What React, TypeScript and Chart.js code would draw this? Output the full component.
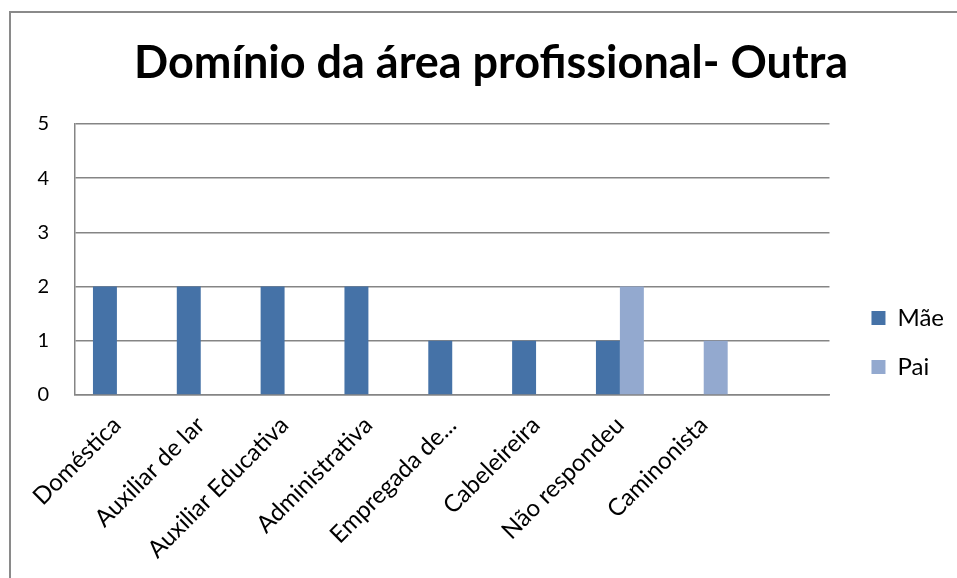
import React, { useEffect, useRef } from "react";
import { Chart, registerables } from "chart.js";

Chart.register(...registerables);

const TITLE = "Domínio da área profissional- Outra";
const CATEGORIES = [
  "Doméstica",
  "Auxiliar de lar",
  "Auxiliar Educativa",
  "Administrativa",
  "Empregada de...",
  "Cabeleireira",
  "Não respondeu",
  "Caminonista",
  "",
];
const SERIES_NAMES = ["Mãe", "Pai"];
const MAE_VALUES = [2, 2, 2, 2, 1, 1, 1, null, null];
const PAI_VALUES = [null, null, null, null, null, null, 2, 1, null];
const Y_MIN = 0;
const Y_MAX = 5;
const Y_STEP = 1;

const FONT = "Lato, 'Open Sans', 'Noto Sans', sans-serif";
const GRID = "#858585";

export default function App() {
  const ref = useRef<HTMLCanvasElement | null>(null);

  useEffect(() => {
    if (!ref.current) return;
    const boxShift = {
      id: "boxShift",
      afterLayout(chart: any) {
        const t = chart.titleBlock;
        if (t) t.left += 17;
        const l = chart.legend;
        if (l) {
          l.top += 55;
          l.bottom += 55;
        }
      },
    };
    const chart = new Chart(ref.current, {
      type: "bar",
      data: {
        labels: CATEGORIES,
        datasets: [
          {
            label: SERIES_NAMES[0],
            data: MAE_VALUES,
            backgroundColor: "#4572A7",
            categoryPercentage: 2 / 3.5,
            barPercentage: 1,
          },
          {
            label: SERIES_NAMES[1],
            data: PAI_VALUES,
            backgroundColor: "#93A9CF",
            categoryPercentage: 2 / 3.5,
            barPercentage: 1,
          },
        ],
      },
      options: {
        responsive: false,
        animation: false,
        devicePixelRatio: 1,
        layout: { padding: { left: 0, right: 3, top: 0, bottom: 16 } },
        plugins: {
          title: {
            display: true,
            text: TITLE,
            color: "#000",
            font: { family: FONT, size: 45, weight: "bold", lineHeight: 1.2 },
            padding: { top: 23, bottom: 34 },
          },
          legend: {
            display: true,
            position: "right",
            labels: {
              boxWidth: 14,
              boxHeight: 14,
              padding: 25,
              color: "#000",
              font: { family: FONT, size: 24 },
            },
          },
          tooltip: { enabled: false },
        },
        scales: {
          x: {
            grid: { display: false, drawTicks: false },
            border: { display: true, color: GRID, width: 1.5 },
            ticks: {
              color: "#000",
              font: { family: FONT, size: 24 },
              maxRotation: 45,
              minRotation: 45,
              autoSkip: false,
              padding: 16,
            },
            afterFit: (s: any) => {
              s.height = 167;
            },
          },
          y: {
            min: Y_MIN,
            max: Y_MAX,
            grid: { color: GRID, lineWidth: 1.5, drawTicks: false },
            border: { display: true, color: GRID, width: 1.5 },
            ticks: {
              stepSize: Y_STEP,
              color: "#000",
              font: { family: FONT, size: 20 },
              padding: 26,
            },
            afterFit: (s: any) => {
              s.width = 64;
            },
          },
          y2: {
            type: "linear",
            position: "right",
            display: true,
            grid: { display: false, drawTicks: false },
            border: { display: false },
            ticks: { display: false },
            afterFit: (s: any) => {
              s.width = 17;
            },
          },
        },
      },
      plugins: [boxShift],
    } as any);
    return () => chart.destroy();
  }, []);

  return (
    <div
      style={{
        position: "absolute",
        left: 9,
        top: 11,
        width: 946,
        height: 565,
        borderLeft: "2px solid #8a8a8a",
        borderTop: "2px solid #8a8a8a",
        background: "#fff",
      }}
    >
      <canvas
        ref={ref}
        width={946}
        height={565}
        style={{ display: "block", width: 946, height: 565 }}
      />
    </div>
  );
}
